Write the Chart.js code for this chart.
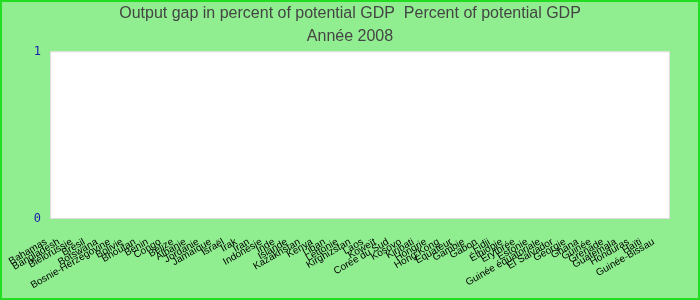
<!DOCTYPE html>
<html lang="fr">
<head>
  <meta charset="UTF-8" />
  <title>Output gap 2008</title>
  <script src="https://cdn.jsdelivr.net/npm/chart.js"></script>
  <style>
    body {
      margin: 0;
      background: #90ee90;
    }
    .wrap {
      width: 700px;
      height: 300px;
    }
  </style>
</head>
<body>
  <div class="wrap"><canvas id="gapChart"></canvas></div>

  <script>
    const countries = [
      'Bahamas', 'Bangladesh', 'Biélorussie', 'Brésil', 'Botswana', 'Bosnie-Herzégovine',
      'Bolivie', 'Bhoutan', 'Bénin', 'Congo', 'Belize', 'Albanie', 'Jordanie', 'Jamaïque',
      'Israël', 'Irak', 'Iran', 'Indonésie', 'Inde', 'Islande', 'Kazakhstan', 'Kenya',
      'Liban', 'Lettonie', 'Kirghizstan', 'Laos', 'Koweït', 'Corée du Sud', 'Kosovo',
      'Kiribati', 'Hongrie', 'Hong Kong', 'Équateur', 'Gambie', 'Gabon', 'Fidji',
      'Éthiopie', 'Érythrée', 'Estonie', 'Guinée équatoriale', 'El Salvador', 'Géorgie',
      'Ghana', 'Guinée', 'Grenade', 'Guatemala', 'Honduras', 'Haïti', 'Guinée-Bissau'
    ];
    // nothing is drawn in the plot for 2008
    const outputGap = countries.map(() => null);
    const yTicks = [0, 1];
    const titleLines = ['Output gap in percent of potential GDP  Percent of potential GDP', 'Année 2008'];

    // green page background, green frame, white plot area
    const frame = {
      id: 'frame',
      beforeDraw(chart) {
        const { ctx, width, height, chartArea } = chart;
        ctx.save();
        ctx.fillStyle = '#90ee90';
        ctx.fillRect(0, 0, width, height);
        ctx.strokeStyle = '#22dd22';
        ctx.lineWidth = 2;
        ctx.strokeRect(1, 1, width - 2, height - 2);
        ctx.fillStyle = '#ffffff';
        ctx.fillRect(chartArea.left, chartArea.top, chartArea.right - chartArea.left, chartArea.bottom - chartArea.top);
        ctx.strokeStyle = '#dddddd';
        ctx.lineWidth = 1;
        ctx.strokeRect(chartArea.left + 0.5, chartArea.top + 0.5, chartArea.right - chartArea.left - 1, chartArea.bottom - chartArea.top - 1);
        ctx.restore();
      }
    };

    new Chart(document.getElementById('gapChart'), {
      type: 'bar',
      data: {
        labels: countries,
        datasets: [{
          label: 'Output gap',
          data: outputGap,
          backgroundColor: '#3366cc'
        }]
      },
      options: {
        responsive: true,
        maintainAspectRatio: false,
        animation: false,
        layout: { padding: 0 },
        plugins: {
          legend: { display: false },
          tooltip: { enabled: false },
          title: {
            display: true,
            text: titleLines,
            color: '#444444',
            font: { family: 'Liberation Sans, Arial, sans-serif', size: 16, weight: 'normal', lineHeight: 1.45 },
            padding: { top: 2, bottom: 3 }
          }
        },
        scales: {
          x: {
            grid: { display: false },
            border: { display: false },
            ticks: {
              autoSkip: false,
              minRotation: 30,
              maxRotation: 30,
              color: '#000000',
              padding: 9,
              labelOffset: -10,
              font: { family: 'Liberation Sans, Arial, sans-serif', size: 10 }
            },
            afterFit(scale) { scale.height = 81; }
          },
          y: {
            min: 0,
            max: 1,
            afterBuildTicks(scale) { scale.ticks = yTicks.map(v => ({ value: v })); },
            grid: { display: false, drawTicks: false },
            border: { display: false },
            ticks: {
              color: '#1a1aaa',
              padding: 9,
              font: { family: 'DejaVu Sans Mono, monospace', size: 12 }
            },
            afterFit(scale) { scale.width = 50; }
          },
          // empty right-hand gutter, keeps the title centred on the whole canvas
          yRight: {
            position: 'right',
            display: true,
            grid: { display: false, drawTicks: false },
            border: { display: false },
            ticks: { display: false },
            afterFit(scale) { scale.width = 30; }
          }
        }
      },
      plugins: [frame]
    });
  </script>
</body>
</html>
